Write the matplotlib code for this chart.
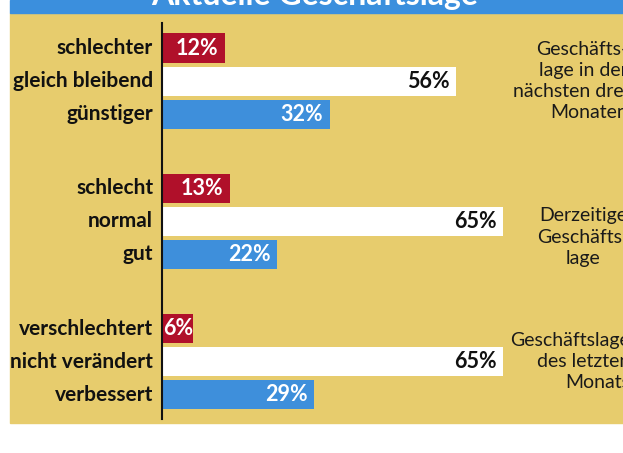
"""
Aktuelle Geschäftslage: drei Gruppen horizontaler Balken auf gelbem Grund
"""
import matplotlib
matplotlib.use("Agg")
import matplotlib.pyplot as plt
from matplotlib.patches import Rectangle

# Daten
groups = [
    ["schlechter", "gleich bleibend", "günstiger"],
    ["schlecht", "normal", "gut"],
    ["verschlechtert", "nicht verändert", "verbessert"],
]
values = [
    [12, 56, 32],
    [13, 65, 22],
    [6, 65, 29],
]
side_labels = [
    "Geschäfts-\nlage in der\nnächsten drei\nMonaten",
    "Derzeitige\nGeschäfts-\nlage",
    "Geschäftslage\ndes letzten\nMonats",
]
title = "Aktuelle Geschäftslage"

# Farben
YELLOW = "#e7cc6d"
RED = "#b0102a"
BLUE = "#3e8fdb"
TITLE_BLUE = "#3b8fdd"
bar_colors = [RED, "white", BLUE]
text_colors = ["white", "#111111", "white"]

plt.rcParams["font.family"] = ["Lato", "DejaVu Sans"]

W, H = 623, 453
fig = plt.figure(figsize=(W / 100, H / 100), dpi=100, facecolor="white")

# gelber Hintergrund + blauer Titelbalken (Bild oben abgeschnitten)
fig.patches.append(Rectangle((10 / W, 1 - 423 / H), 1 - 10 / W, (423 - 13) / H,
                             transform=fig.transFigure, color=YELLOW, zorder=-2))
fig.patches.append(Rectangle((10 / W, 1 - 13 / H), 1 - 10 / W, 13 / H,
                             transform=fig.transFigure, color=TITLE_BLUE, zorder=-2))
fig.text(315 / W, 1 - 5 / H, title, ha="center", va="baseline",
         color="white", fontsize=23, fontweight="bold")

ax = fig.add_axes([161.5 / W, 1 - 419 / H, 1 - 161.5 / W, (419 - 23) / H])
ax.set_facecolor("none")

gap = 4.25
for g, (labels, vals) in enumerate(zip(groups, values)):
    for i, (lab, v) in enumerate(zip(labels, vals)):
        y = g * gap + i
        ax.barh(y, v, height=0.88, color=bar_colors[i], edgecolor="none", zorder=2)
        # Wert im Balken; bei sehr kurzen Balken linksbündig am Anfang
        if v < 10:
            ax.annotate(f"{v}%", xy=(0, y), xytext=(1, 0), textcoords="offset points",
                        ha="left", va="center", fontsize=15.5, fontweight="bold",
                        color=text_colors[i], zorder=3)
        else:
            ax.annotate(f"{v}%", xy=(v, y), xytext=(-4.5, 0), textcoords="offset points",
                        ha="right", va="center", fontsize=15.5, fontweight="bold",
                        color=text_colors[i], zorder=3)
        ax.annotate(lab, xy=(0, y), xytext=(-6, 0), textcoords="offset points",
                    ha="right", va="center", fontsize=15, fontweight="bold",
                    color="#111111", annotation_clip=False)

# Beschriftung rechts (im Original am Rand abgeschnitten)
side_x = [88.9, 80.3, 89.3]
side_y = [1.0, 5.73, 9.5]
side_ha = ["right", "center", "right"]
for txt, sx, sy, ha in zip(side_labels, side_x, side_y, side_ha):
    ax.text(sx, sy, txt, ha=ha, va="center", fontsize=14, linespacing=1.3,
            color="#1a1a1a", multialignment=ha, clip_on=False)

ax.set_xlim(0, (W - 161.5) / 5.25)
ax.set_ylim(11.24, -0.758)
for s in ["top", "right", "bottom"]:
    ax.spines[s].set_visible(False)
ax.spines["left"].set_linewidth(1.5)
ax.spines["left"].set_color("#111111")
ax.set_xticks([])
ax.set_yticks([])

fig.savefig("out.png", dpi=100, facecolor="white")
